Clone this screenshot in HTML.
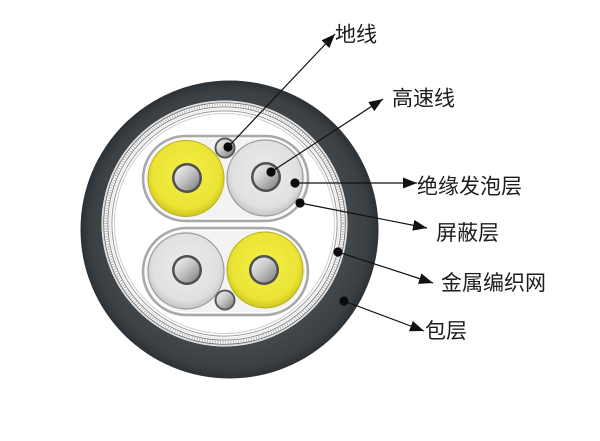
<!DOCTYPE html>
<html>
<head>
<meta charset="utf-8">
<style>
  html, body { margin: 0; padding: 0; background: #ffffff; }
  body { width: 600px; height: 441px; overflow: hidden; }
  svg { display: block; }
  text { font-family: "Liberation Sans", "Noto Sans CJK SC", "WenQuanYi Zen Hei", sans-serif; font-size: 21px; fill: #1c1c1c; }
</style>
</head>
<body>
<svg width="600" height="441" viewBox="0 0 600 441" xmlns="http://www.w3.org/2000/svg">
  <defs>
    <radialGradient id="yel" cx="50%" cy="45%" r="55%">
      <stop offset="0%" stop-color="#f4ee4a"/>
      <stop offset="80%" stop-color="#ebe435"/>
      <stop offset="100%" stop-color="#cfc61e"/>
    </radialGradient>
    <radialGradient id="gry" cx="50%" cy="45%" r="55%">
      <stop offset="0%" stop-color="#ececec"/>
      <stop offset="80%" stop-color="#e0e0e0"/>
      <stop offset="100%" stop-color="#c4c4c4"/>
    </radialGradient>
    <linearGradient id="metal" x1="0" y1="0" x2="1" y2="1">
      <stop offset="0%" stop-color="#f4f4f4"/>
      <stop offset="45%" stop-color="#c8c8c8"/>
      <stop offset="100%" stop-color="#7c7c7c"/>
    </linearGradient>
    <radialGradient id="ring" cx="50%" cy="50%" r="50%">
      <stop offset="80%" stop-color="#41474b"/>
      <stop offset="93%" stop-color="#3a4044"/>
      <stop offset="100%" stop-color="#2c3135"/>
    </radialGradient>
    <marker id="ah" markerUnits="userSpaceOnUse" markerWidth="15" markerHeight="11" refX="14" refY="5.5" orient="auto">
      <path d="M0,0 L14,5.5 L0,11 z" fill="#111"/>
    </marker>
  </defs>

  <!-- outer jacket -->
  <circle cx="229.5" cy="229.5" r="149" fill="url(#ring)"/>
  <circle cx="224.5" cy="223.5" r="123" fill="#ffffff"/>

  <!-- braid / shield rings -->
  <g fill="none">
    <circle cx="224.5" cy="223.5" r="122" stroke="#dcdcdc" stroke-width="1.2"/>
    <circle cx="224.5" cy="223.5" r="120.8" stroke="#6e6e6e" stroke-width="0.9"/>
    <circle cx="224.5" cy="223.5" r="118.6" stroke="#b0b0b0" stroke-width="2.6" stroke-dasharray="1 1.6"/>
    <circle cx="224.5" cy="223.5" r="116.6" stroke="#808080" stroke-width="0.9"/>
    <circle cx="224.5" cy="223.5" r="114.6" stroke="#e8e8e8" stroke-width="1.2"/>
    <circle cx="224.5" cy="223.5" r="112.6" stroke="#9a9a9a" stroke-width="1"/>
    <circle cx="224.5" cy="223.5" r="110" stroke="#cfcfcf" stroke-width="1"/>
  </g>

  <!-- top pair capsule -->
  <rect x="143" y="136" width="165" height="85" rx="42.5" fill="#f3f3f3" stroke="#a8a8a8" stroke-width="2.5"/>
  <rect x="145.5" y="138.5" width="160" height="80" rx="40" fill="none" stroke="#ffffff" stroke-width="1"/>
  <!-- bottom pair capsule -->
  <rect x="143" y="228" width="165" height="87" rx="43.5" fill="#f3f3f3" stroke="#a8a8a8" stroke-width="2.5"/>
  <rect x="145.5" y="230.5" width="160" height="82" rx="41" fill="none" stroke="#ffffff" stroke-width="1"/>

  <!-- top pair cores -->
  <circle cx="186" cy="178.5" r="38" fill="url(#yel)" stroke="#b9b01a" stroke-width="1"/>
  <circle cx="265" cy="178" r="38" fill="url(#gry)" stroke="#9a9a9a" stroke-width="1.2"/>
  <!-- bottom pair cores -->
  <circle cx="186" cy="271" r="38" fill="url(#gry)" stroke="#9a9a9a" stroke-width="1.2"/>
  <circle cx="265" cy="270" r="38" fill="url(#yel)" stroke="#b9b01a" stroke-width="1"/>

  <!-- conductors -->
  <g>
    <circle cx="187" cy="178" r="15" fill="#505050"/>
    <circle cx="187" cy="178" r="12.5" fill="url(#metal)"/>
    <circle cx="266" cy="177" r="15" fill="#505050"/>
    <circle cx="266" cy="177" r="12.5" fill="url(#metal)"/>
    <circle cx="187" cy="270" r="15" fill="#505050"/>
    <circle cx="187" cy="270" r="12.5" fill="url(#metal)"/>
    <circle cx="264" cy="270" r="15" fill="#505050"/>
    <circle cx="264" cy="270" r="12.5" fill="url(#metal)"/>
  </g>

  <!-- ground wires -->
  <circle cx="225" cy="148" r="10.5" fill="#5a5a5a"/>
  <circle cx="225" cy="148" r="8.5" fill="url(#metal)"/>
  <circle cx="225" cy="300" r="10.5" fill="#5a5a5a"/>
  <circle cx="225" cy="300" r="8.5" fill="url(#metal)"/>

  <!-- leader lines -->
  <g stroke="#111" stroke-width="1.2" fill="none">
    <line x1="228" y1="147" x2="335" y2="34" marker-end="url(#ah)"/>
    <line x1="271" y1="172" x2="383" y2="99" marker-end="url(#ah)"/>
    <line x1="295" y1="183" x2="417" y2="183" marker-end="url(#ah)"/>
    <line x1="300" y1="203" x2="427" y2="228" marker-end="url(#ah)"/>
    <line x1="338" y1="252" x2="433" y2="283" marker-end="url(#ah)"/>
    <line x1="344" y1="301" x2="424" y2="331" marker-end="url(#ah)"/>
  </g>
  <g fill="#0a0a0a">
    <circle cx="228" cy="147" r="4.6"/>
    <circle cx="271" cy="172" r="4.6"/>
    <circle cx="295" cy="183" r="4.6"/>
    <circle cx="300" cy="203" r="4.6"/>
    <circle cx="338" cy="252" r="4.6"/>
    <circle cx="344" cy="301" r="4.6"/>
  </g>

  <!-- labels -->
  <text x="335" y="41.5">地线</text>
  <text x="392" y="105.5">高速线</text>
  <text x="417" y="193.5">绝缘发泡层</text>
  <text x="436" y="240">屏蔽层</text>
  <text x="441" y="290">金属编织网</text>
  <text x="425" y="338">包层</text>
</svg>
</body>
</html>
